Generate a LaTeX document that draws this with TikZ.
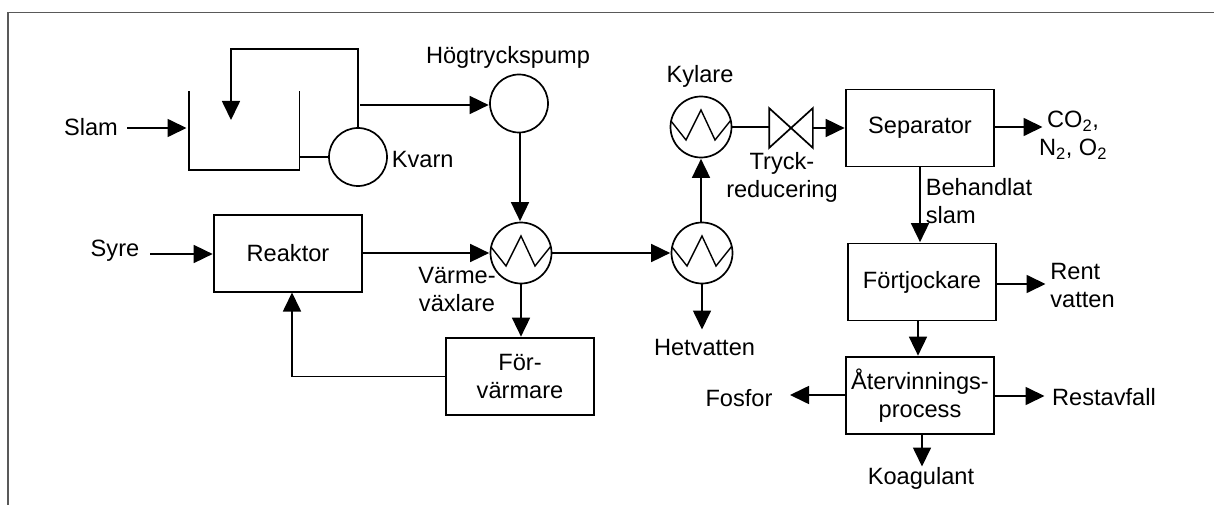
\documentclass[tikz,border=0pt]{standalone}
\usepackage{fontspec}
\setmainfont{Liberation Sans}
\usepackage{tikz}
\usetikzlibrary{arrows.meta}
\tikzset{
	every node/.style={font=\fontsize{23.6pt}{28pt}\selectfont, align=center, inner sep=0pt},
	every path/.style={line width=1.7pt, color=black}
}
\tikzset{
	flow/.style={-{Triangle[length=19pt,width=18pt]}, shorten >=0.5pt},
	box/.style={draw, rectangle, minimum width=148pt, minimum height=77pt},
	pump/.style={draw, circle, minimum size=58pt},
	hx/.style={draw, circle, minimum size=61pt, path picture={
		\draw[line width=1.4pt] (path picture bounding box.center) ++(-30,-6) -- ++(15,19) -- ++(15,-30) -- ++(14,30) -- ++(16,-20);
	}}
}
\begin{document}
\begin{tikzpicture}[x=1pt,y=-1pt]
	\useasboundingbox (0,0) rectangle (1214,505);
	% frame
	\coordinate (f1) at (8,505);
	\coordinate (f2) at (8,12.5);
	\coordinate (f3) at (1214,12.5);
	\draw[line width=1.3pt, color=black!65] (f1) -- (f2) -- (f3);

	\node (tank) [minimum width=109pt, minimum height=77pt] at (244,130.5) {};
	\node (kvarn) [pump] at (358,157) {};
	\node (pump) [pump] at (519,103.5) {};
	\node (hx1) [hx] at (521,253) {};
	\node (hx2) [hx] at (702,253) {};
	\node (kylare) [hx] at (701,127) {};
	\node (valve) [minimum width=42pt, minimum height=38pt] at (791,128) {};
	\node (reaktor) [box] at (288,253.5) {Reaktor};
	\node (forv) [box] at (520,376.5) {För-\\värmare};
	\node (sep) [box] at (920,128) {Separator};
	\node (fortj) [box] at (922,282) {Förtjockare};
	\node (ater) [box] at (920,395.5) {Återvinnings-\\process};

	\node (slam) at (91,127) {Slam};
	\node (syre) at (115,251) {Syre};
	\node (kvarntxt) [anchor=west] at (391,159) {Kvarn};
	\node (hogtxt) at (508,57) {Högtryckspump};
	\node (kyltxt) at (700,76) {Kylare};
	\node (vaxtxt) at (457,289.5) {Värme-\\växlare};
	\node (tryck) at (782,177.5) {Tryck-\\reducering};
	\node (behtxt) [anchor=west, align=left] at (925,201) {Behandlat\\slam};
	\node (hetv) at (704.5,347) {Hetvatten};
	\node (gas) at (1073,135) {CO\textsubscript{2},\\N\textsubscript{2}, O\textsubscript{2}};
	\node (rent) [anchor=west, align=left] at (1049.5,285) {Rent\\vatten};
	\node (fosfor) at (739,398) {Fosfor};
	\node (rest) at (1104,397) {Restavfall};
	\node (koag) at (921,478) {Koagulant};

	\coordinate (top1) at (231,49);
	\coordinate (top2) at (358,49);
	\coordinate (drop) at (231,120.5);
	\coordinate (tee) at (360,105);
	\coordinate (slamout) at (127,128);
	\coordinate (slamin) at (187,128);
	\coordinate (syreout) at (150,254);
	\coordinate (feed) at (292,292);
	\coordinate (tohet) at (702,330);
	\coordinate (togas) at (1043,127);
	\coordinate (torent) at (1046,284);
	\coordinate (tofos) at (789.5,395);
	\coordinate (torest) at (1045,396);
	\coordinate (tokoag) at (922,467);

	\draw (tank.north west) -- (tank.south west) -- (tank.south east) -- (tank.north east);
	\draw (valve.north west) -- (valve.south east) -- (valve.north east) -- (valve.south west) -- cycle;

	\draw (tank.east |- kvarn) -- (kvarn);
	\draw[flow] (kvarn) -- (top2) -- (top1) -- (drop);
	\draw[flow] (tee) -- (pump.west |- tee);
	\draw[flow] (pump.south -| 520,0) -- (hx1.north -| 520,0);
	\draw[flow] (slamout) -- (slamin);
	\draw[flow] (syreout) -- (reaktor.west |- syreout);
	\draw[flow] (reaktor.east |- hx1) -- (hx1);
	\draw[flow] (hx1) -- (hx1 |- forv.north);
	\draw[flow] (forv.west) -| (feed);
	\draw[flow] (hx1) -- (hx2);
	\draw[flow] (hx2) -- (tohet);
	\draw[flow] (hx2.north -| kylare) -- (kylare);
	\draw (kylare) -- (kylare -| valve.west);
	\draw[flow] (valve.east) -- (sep.west);
	\draw[flow] (sep.east |- togas) -- (togas);
	\draw[flow] (sep) -- (sep |- fortj.north);
	\draw[flow] (fortj.east |- torent) -- (torent);
	\draw[flow] (fortj.south -| 918,0) -- (ater.north -| 918,0);
	\draw[flow] (ater.west |- tofos) -- (tofos);
	\draw[flow] (ater.east |- torest) -- (torest);
	\draw[flow] (ater.south -| tokoag) -- (tokoag);
\end{tikzpicture}
\end{document}
